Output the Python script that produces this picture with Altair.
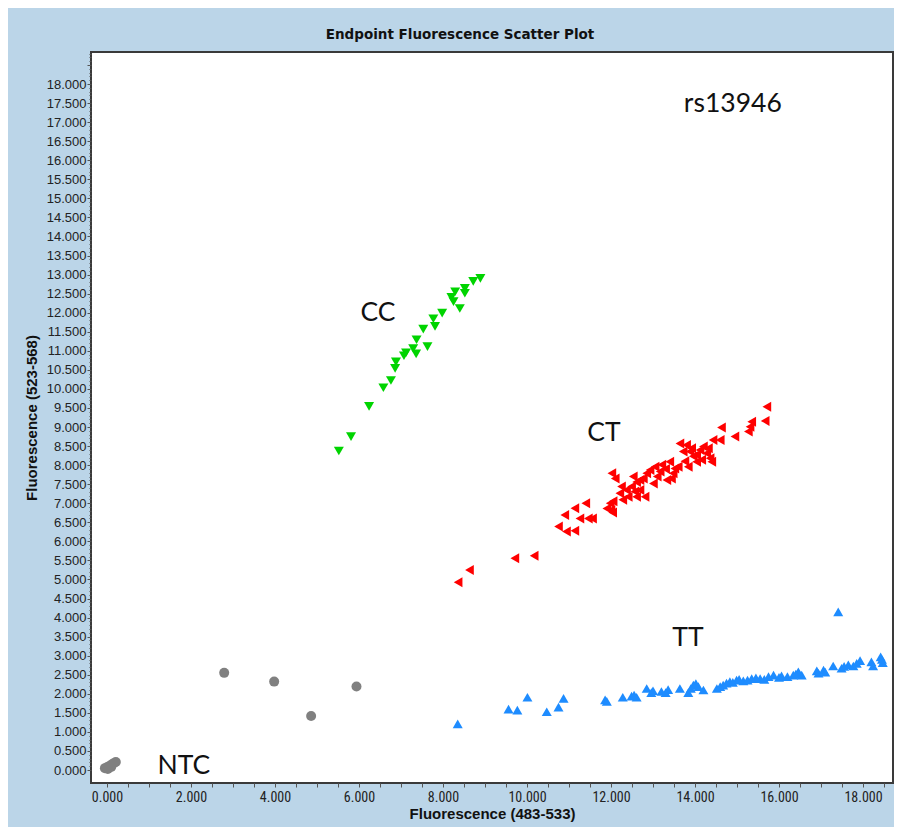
import altair as alt
import pandas as pd

# ---- data ----
cc_x = [5.52, 5.81, 6.24, 6.58, 6.76, 6.86, 6.88, 7.07, 7.12, 7.29, 7.37, 7.36, 7.63, 7.53, 7.77,
        7.81, 7.98, 8.20, 8.29, 8.25, 8.40, 8.52, 8.52, 8.72, 8.89]
cc_y = [8.37, 8.75, 9.54, 10.03, 10.22, 10.54, 10.71, 10.87, 10.95, 11.06, 11.29, 10.92, 11.11, 11.57, 11.84,
        11.64, 11.99, 12.40, 12.55, 12.29, 12.11, 12.64, 12.51, 12.82, 12.90]

ct_x = [8.36, 8.63, 9.71, 10.17, 10.75, 10.94, 11.14, 10.90, 11.14, 11.40, 11.26, 11.46, 11.56, 11.98, 12.00,
        12.02, 12.10, 12.28, 12.37, 12.49, 12.61, 12.69, 12.77, 12.85, 12.81, 13.05, 13.17, 13.33, 13.40, 13.48,
        13.60, 13.64, 13.80, 13.88, 13.96, 14.04, 14.12, 14.20, 14.28, 14.40, 14.43, 14.60, 14.63, 14.95, 15.27,
        15.35, 15.67, 15.71, 11.90, 12.04, 12.21, 12.41, 12.57, 12.69, 12.93, 13.01, 13.21, 13.44, 13.52, 13.72,
        13.76, 13.92, 14.04, 14.16, 14.32, 14.36, 13.84, 12.53, 12.25, 12.61, 15.31, 12.05, 13.10, 13.30]
ct_y = [4.93, 5.25, 5.56, 5.62, 6.39, 6.26, 6.28, 6.69, 6.87, 7.00, 6.60, 6.60, 6.60, 7.00, 6.82,
        7.79, 7.65, 7.09, 7.35, 7.44, 7.56, 7.35, 7.65, 7.79, 7.17, 7.96, 7.83, 7.61, 8.09, 7.79,
        7.96, 8.57, 8.53, 8.36, 8.23, 8.09, 8.40, 8.49, 8.31, 8.09, 8.66, 8.66, 8.99, 8.75, 8.88,
        9.14, 9.16, 9.53, 6.86, 6.76, 7.26, 7.17, 7.31, 7.61, 7.87, 7.52, 8.01, 7.65, 7.91, 8.36,
        8.10, 8.44, 8.27, 8.14, 8.44, 8.18, 7.96, 7.70, 7.44, 7.17, 9.01, 7.05, 7.70, 7.90]

tt_x = [8.35, 9.56, 9.77, 10.01, 10.47, 10.75, 10.87, 11.86, 12.28, 12.49, 12.61, 12.85, 12.96, 13.20, 13.36,
        13.64, 13.84, 13.96, 14.08, 14.20, 14.52, 14.67, 14.83, 14.99, 15.15, 15.35, 15.55, 15.75, 15.87, 16.06,
        16.34, 16.46, 16.54, 16.94, 17.06, 17.29, 17.41, 17.49, 17.65, 17.77, 17.93, 18.20, 18.24, 18.42, 18.47,
        11.90, 12.55, 13.00, 13.30, 13.90, 14.02, 14.60, 14.75, 14.90, 15.05, 15.25, 15.45, 15.65, 16.00, 16.20,
        16.40, 16.90, 17.10, 17.55, 17.85, 18.45]
tt_y = [1.21, 1.60, 1.57, 1.91, 1.53, 1.65, 1.88, 1.84, 1.91, 1.94, 1.91, 2.14, 2.03, 2.06, 2.11,
        2.14, 2.03, 2.23, 2.19, 2.10, 2.14, 2.23, 2.32, 2.36, 2.34, 2.40, 2.40, 2.45, 2.49, 2.47,
        2.49, 2.58, 2.49, 2.54, 2.62, 2.73, 4.15, 2.67, 2.76, 2.73, 2.87, 2.84, 2.73, 2.97, 2.82,
        1.80, 1.97, 2.08, 2.03, 2.14, 2.27, 2.19, 2.28, 2.30, 2.38, 2.36, 2.42, 2.38, 2.43, 2.45,
        2.52, 2.60, 2.57, 2.72, 2.80, 2.90]

ntc_x = [2.79, 3.98, 4.86, 5.94, -0.05, 0.00, 0.04, 0.08, 0.12, 0.16, 0.21, 0.02, 0.10]
ntc_y = [2.55, 2.32, 1.42, 2.19, 0.05, 0.07, 0.09, 0.12, 0.15, 0.18, 0.21, 0.03, 0.08]

groups = ["CC", "CT", "TT", "NTC"]
shapes = ["triangle-down", "triangle-left", "triangle-up", "circle"]
colors = ["#00D400", "#FF0000", "#1E8CFF", "#808080"]
sizes = [100, 100, 90, 55]

label_text = ["rs13946", "CC", "CT", "TT", "NTC"]
label_x = [14.9, 6.45, 11.83, 13.83, 1.83]
label_y = [17.48, 12.0, 8.85, 3.46, 0.1]

x_domain = [-0.381, 18.714]
y_domain = [-0.34, 18.84]

# ---- tables ----
rows = []
for g, xs, ys in [("CC", cc_x, cc_y), ("CT", ct_x, ct_y), ("TT", tt_x, tt_y), ("NTC", ntc_x, ntc_y)]:
    for a, b in zip(xs, ys):
        rows.append({"x": a, "y": b, "group": g})
df = pd.DataFrame(rows)
labels = pd.DataFrame({"text": label_text, "x": label_x, "y": label_y})

y_ticks = [round(i * 0.1, 1) for i in range(0, 189)]
x_ticks = [round(i * 0.5, 1) for i in range(0, 38)]

major_y = "abs(datum.value*2 - round(datum.value*2)) < 0.001"
narrow = "Liberation Sans Narrow, Roboto Condensed, Liberation Sans, Arial, sans-serif"
sans = "Liberation Sans, Arial, sans-serif"

x_scale = alt.Scale(domain=x_domain, nice=False, zero=False)
y_scale = alt.Scale(domain=y_domain, nice=False, zero=False)

x_axis = alt.Axis(
    title="Fluorescence (483-533)", values=x_ticks, tickCount=500,
    labelExpr="(abs(datum.value/2 - round(datum.value/2)) < 0.001 && datum.value <= 18.001) ? format(datum.value, '.3f') : ''",
    labelFont=narrow, labelFontSize=14, labelColor="#222222",
    labelPadding=3, tickSize=4, tickColor="#555555", domain=False, grid=False,
    titleFont=sans, titleFontSize=15, titleFontWeight="bold",
    titleColor="#111111", titlePadding=2, labelOverlap=False, labelFlush=False,
)
y_axis = alt.Axis(
    title="Fluorescence (523-568)", values=y_ticks, tickCount=500,
    labelExpr="(" + major_y + " && datum.value <= 18.001) ? format(datum.value, '.3f') : ''",
    labelFont=sans, labelFontSize=13, labelColor="#222222",
    labelPadding=1, tickColor="#555555", domain=False, grid=False,
    tickSize={"condition": {"test": major_y, "value": 4}, "value": 2},
    titleFont=sans, titleFontSize=15, titleFontWeight="bold",
    titleColor="#111111", titlePadding=7, labelOverlap=False, labelFlush=False,
)

points = alt.Chart(df).mark_point(filled=True, opacity=1, strokeWidth=0).encode(
    x=alt.X("x:Q", scale=x_scale, axis=x_axis),
    y=alt.Y("y:Q", scale=y_scale, axis=y_axis),
    shape=alt.Shape("group:N", scale=alt.Scale(domain=groups, range=shapes), legend=None),
    color=alt.Color("group:N", scale=alt.Scale(domain=groups, range=colors), legend=None),
    size=alt.Size("group:N", scale=alt.Scale(domain=groups, range=sizes), legend=None),
)

text = alt.Chart(labels).mark_text(
    font="Lato", fontSize=26.5, color="#111111", align="center", baseline="middle"
).encode(
    x=alt.X("x:Q", scale=x_scale),
    y=alt.Y("y:Q", scale=y_scale),
    text="text:N",
)

chart = alt.layer(points, text).properties(
    width=802, height=731,
    title=alt.TitleParams(
        "Endpoint Fluorescence Scatter Plot", font="DejaVu Sans", fontSize=13.5,
        fontWeight="bold", color="#111111", anchor="middle", dx=-32, offset=6,
    ),
    background="#BBD5E8",
    autosize=alt.AutoSizeParams(type="none"),
    padding={"left": 83, "top": 44, "right": 1, "bottom": 44},
).configure_view(
    fill="white", stroke="#3a3a3a", strokeWidth=2
)

chart.save("out.html", embed_options={"renderer": "svg", "actions": False})
